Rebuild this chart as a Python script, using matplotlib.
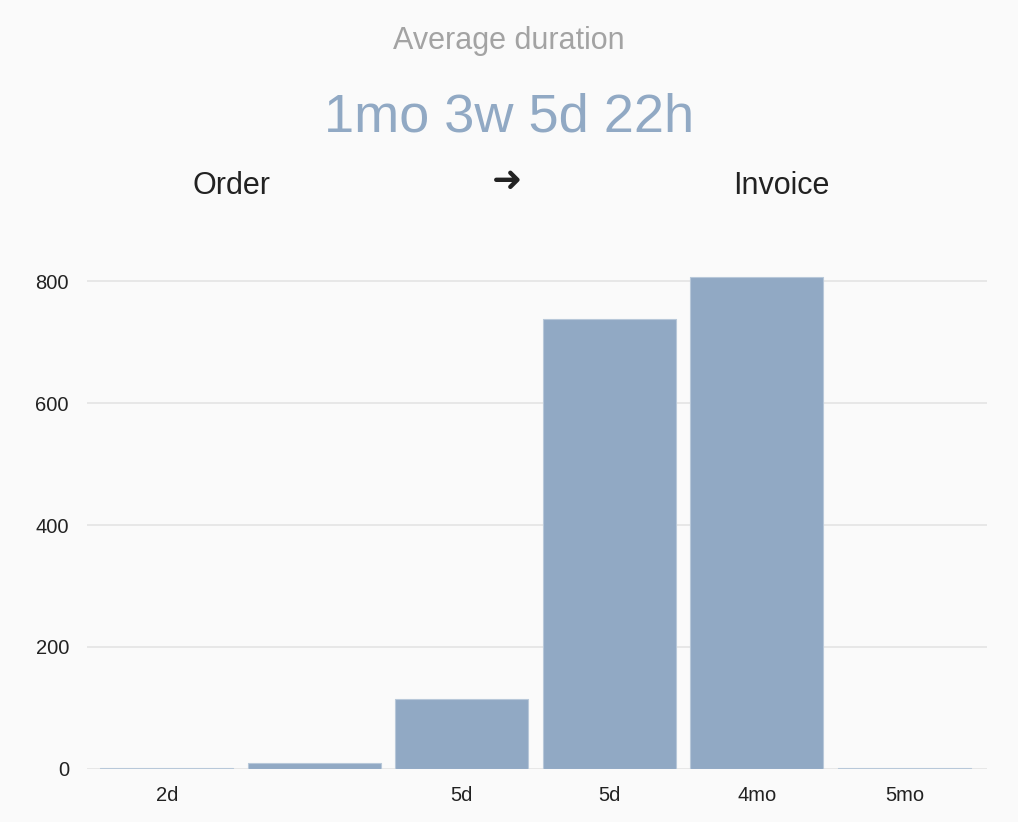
import matplotlib
matplotlib.use("Agg")
import matplotlib.pyplot as plt

# bins of the order -> invoice duration histogram
bin_labels = ["2d", "", "5d", "5d", "4mo", "5mo"]
counts = [2, 10, 115, 737, 806, 2]
y_ticks = [0, 200, 400, 600, 800]

bar_color = "#91a9c4"
bg = "#fafafa"

plt.rcParams['font.family'] = ['Liberation Sans', 'DejaVu Sans']

fig = plt.figure(figsize=(10.18, 8.22), dpi=100)
fig.patch.set_facecolor(bg)

ax = fig.add_axes([0.0855, 0.0645, 0.8841, 0.6307])
ax.set_facecolor(bg)

x = list(range(len(counts)))
ax.bar(x, counts, width=0.9, color=bar_color, edgecolor="#b8c8d9", linewidth=0.8, zorder=3)

ax.set_xlim(-0.54, 5.56)
ax.set_ylim(0, 850)
ax.set_yticks(y_ticks)
ax.set_xticks(x)
ax.set_xticklabels(bin_labels)
ax.grid(axis="y", color="#e4e4e4", linewidth=1.2, zorder=0)
for s in ax.spines.values():
    s.set_visible(False)
ax.tick_params(axis="both", length=0, labelsize=14.5, colors="#222222")
ax.tick_params(axis="y", pad=13)
ax.tick_params(axis="x", pad=12)

# header texts
fig.text(0.5, 1 - 41/822, "Average duration", ha="center", va="center",
         fontsize=22, color="#a3a3a3")
fig.text(0.5, 1 - 118/822, "1mo 3w 5d 22h", ha="center", va="center",
         fontsize=39, color=bar_color)
fig.text(232/1018, 1 - 186/822, "Order", ha="center", va="center",
         fontsize=22, color="#222222")
fig.text(781/1018, 1 - 186/822, "Invoice", ha="center", va="center",
         fontsize=22, color="#222222")
fig.text(507/1018, 1 - 181/822, "\u279c", ha="center", va="center",
         fontsize=26, fontweight="bold", color="#222222", family=['DejaVu Sans'])

fig.savefig("out.png", dpi=100, facecolor=bg)
